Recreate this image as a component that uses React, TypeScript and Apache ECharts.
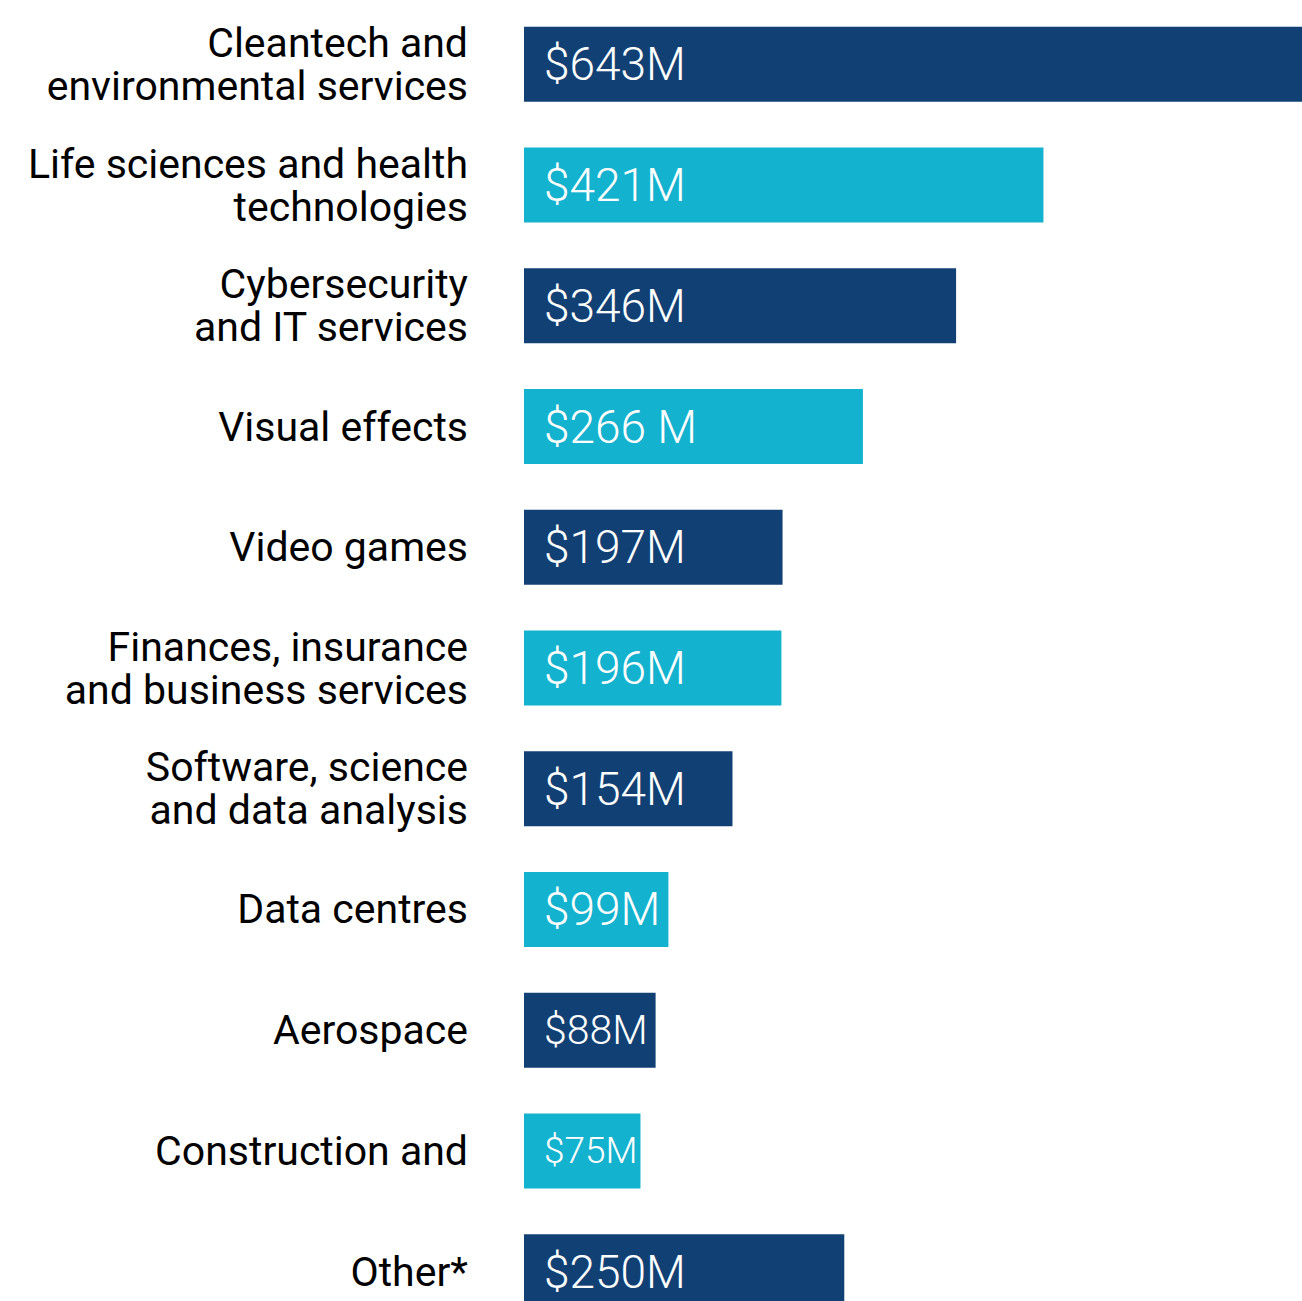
import React, { useEffect, useRef } from "react";
import * as echarts from "echarts";

const categories = [
  "Cleantech and\nenvironmental services",
  "Life sciences and health\ntechnologies",
  "Cybersecurity\nand IT services",
  "Visual effects",
  "Video games",
  "Finances, insurance\nand business services",
  "Software, science\nand data analysis",
  "Data centres",
  "Aerospace",
  "Construction and",
  "Other*",
];
const values = [643, 421, 346, 266, 197, 196, 154, 99, 88, 75, 250];
const valueLabels = ["$643M", "$421M", "$346M", "$266 M", "$197M", "$196M", "$154M", "$99M", "$88M", "$75M", "$250M"];
const labelSizes = [46, 46, 46, 46, 46, 46, 46, 46, 41, 37, 46];
const barColors = ["#114174", "#13b2cf", "#114174", "#13b2cf", "#114174", "#13b2cf", "#114174", "#13b2cf", "#114174", "#13b2cf", "#114174"];

export default function App() {
  const ref = useRef<HTMLDivElement>(null);
  useEffect(() => {
    document.documentElement.style.overflow = "hidden";
    document.body.style.margin = "0";
    document.body.style.overflow = "hidden";
    if (!ref.current) return;
    const chart = echarts.init(ref.current, null, { renderer: "svg" });
    chart.setOption({
      animation: false,
      grid: { left: 524, right: 0, top: 4, bottom: 0, containLabel: false },
      xAxis: {
        type: "value",
        min: -25,
        max: 643,
        startValue: -25,
        show: false,
      },
      yAxis: {
        type: "category",
        inverse: true,
        data: categories,
        axisLine: { show: false },
        axisTick: { show: false },
        splitLine: { show: false },
        axisLabel: {
          margin: 56,
          align: "right",
          color: "#000",
          fontFamily: "Roboto",
          fontSize: 41,
          lineHeight: 43,
        },
      },
      series: [
        {
          type: "bar",
          barWidth: 75,
          data: values.map((v, i) => ({
            value: v,
            itemStyle: { color: barColors[i] },
            label: { fontSize: labelSizes[i] },
          })),
          label: {
            show: true,
            position: "insideLeft",
            distance: 20,
            color: "#fff",
            fontFamily: "Roboto",
            fontWeight: 300,
            fontSize: 46,
            formatter: (p: any) => valueLabels[p.dataIndex],
          },
        },
      ],
    });
    return () => chart.dispose();
  }, []);
  return <div ref={ref} style={{ width: 1302, height: 1332 }} />;
}
